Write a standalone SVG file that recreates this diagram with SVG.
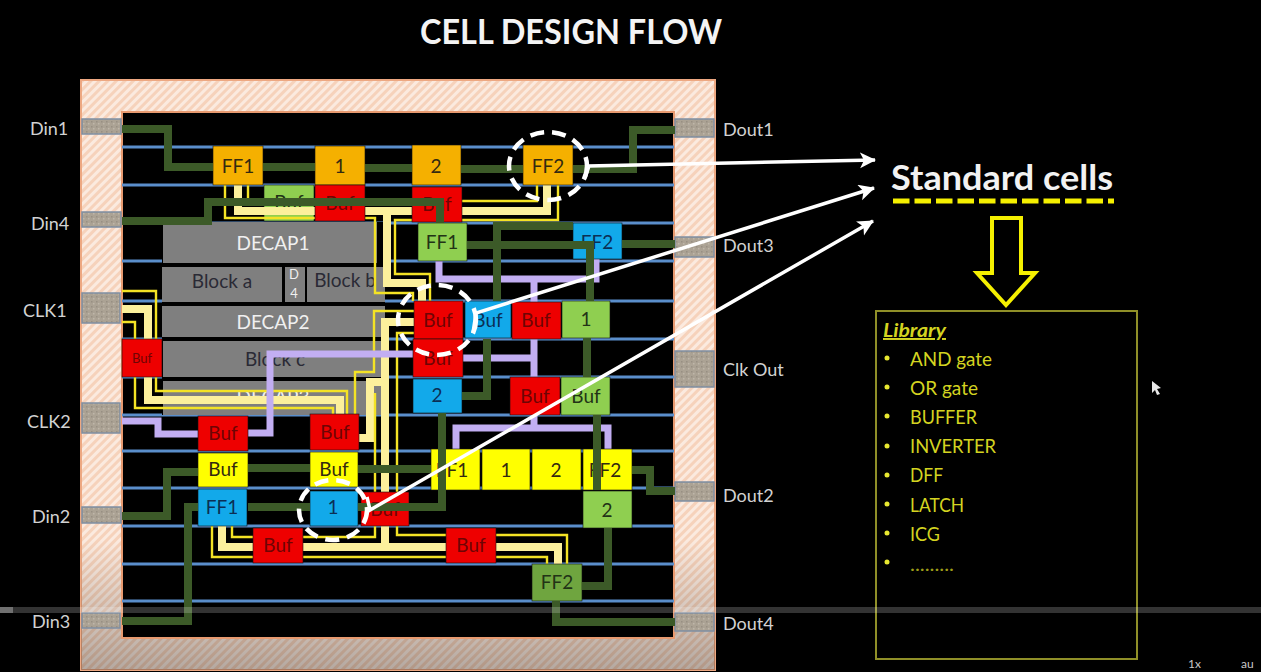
<svg xmlns="http://www.w3.org/2000/svg" width="1261" height="672" viewBox="0 0 1261 672">
<style>
text{font-family:"Lato","Open Sans","Liberation Sans",sans-serif}
.cell text,.blk text{text-anchor:middle}
.cell text{font-size:19px;fill:#332a10}
.or rect{fill:#f5b000}.rd rect{fill:#ee0000}.gn rect{fill:#8fcf50}.dg rect{fill:#6fa53f}.bl rect{fill:#12a9ea}.ye rect{fill:#ffff00}
.rd text{fill:#6e0404}.bl text{fill:#0b2f55}.gn text,.dg text{fill:#223316}
.cell rect{stroke:#111;stroke-width:.6}
.blk rect{fill:#7f7f7f}
.blk text{font-size:19px;fill:#2a2a35}
.blk text.w{fill:#f0f0f0}
.rail path{stroke:#5a8ecb;stroke-width:3;fill:none}
.w7 path{fill:none;stroke:#3c5a28;stroke-width:8}
.wp{fill:none;stroke:#c2aef2;stroke-width:7}
.wc{fill:none;stroke:#fcf09c;stroke-width:8}
.wt{fill:none;stroke:#f4e325;stroke-width:2.4}
.pin{fill:url(#grain);stroke:#7f8ea2;stroke-width:1.5}
.lab{font-size:18px;fill:#d2d2d2}
.ring{fill:none;stroke:#fff;stroke-width:4.5;stroke-dasharray:14 8}
.call{fill:none;stroke:#fff;stroke-width:3.5;marker-end:url(#ah)}
.lib{font-size:19.5px;fill:#d4d420}
.dot{fill:#e8e830}
</style>
<defs>
<pattern id="hatch" width="6" height="6" patternUnits="userSpaceOnUse" patternTransform="rotate(45)">
<rect width="6" height="6" fill="#fbeadf"/><rect width="3" height="6" fill="#f6d2bb"/>
</pattern>
<pattern id="grain" width="5" height="5" patternUnits="userSpaceOnUse">
<rect width="5" height="5" fill="#aba294"/><rect x="1" y="1" width="1.5" height="1.5" fill="#978f83"/><rect x="3" y="3" width="1.5" height="1.5" fill="#bfb7aa"/>
</pattern>
<linearGradient id="fade" x1="0" y1="0" x2="0" y2="1">
<stop offset="0" stop-color="#000" stop-opacity="0"/><stop offset="1" stop-color="#000" stop-opacity=".28"/>
</linearGradient>
<marker id="ah" markerUnits="userSpaceOnUse" markerWidth="20" markerHeight="18" refX="15" refY="8" orient="auto">
<path d="M0 0L16 8L0 16L4 8Z" fill="#fff"/>
</marker>
</defs>
<rect width="1261" height="672" fill="#000"/>
<text x="571" y="44" font-size="34" font-weight="700" fill="#f4f4f4" text-anchor="middle" textLength="302" lengthAdjust="spacingAndGlyphs">CELL DESIGN FLOW</text>

<g id="die">
<rect x="81" y="80" width="634" height="590" fill="url(#hatch)" stroke="#eda882" stroke-width="2"/>
<rect x="81" y="540" width="634" height="130" fill="url(#fade)"/>
<rect x="122" y="112" width="552" height="526" fill="#000" stroke="#e89a70" stroke-width="2"/>
</g>

<g id="rails" class="rail">
<path d="M122 147H674M122 185H674M122 223H674M122 261H674M122 301H674M122 339H674M122 377H674M122 415H674M122 451H674M122 488H674M122 526H674M122 564H674M122 601H674"/>
</g>

<g id="pins">
<g id="pin-din1"><rect class="pin" x="82" y="119" width="39" height="15"/><text class="lab" x="30" y="135">Din1</text></g>
<g id="pin-din4"><rect class="pin" x="82" y="212" width="39" height="15"/><text class="lab" x="31" y="230">Din4</text></g>
<g id="pin-clk1"><rect class="pin" x="82" y="293" width="38" height="30"/><text class="lab" x="23" y="317">CLK1</text></g>
<g id="pin-clk2"><rect class="pin" x="82" y="403" width="38" height="30"/><text class="lab" x="27" y="428">CLK2</text></g>
<g id="pin-din2"><rect class="pin" x="82" y="507" width="39" height="16"/><text class="lab" x="32" y="523">Din2</text></g>
<g id="pin-din3"><rect class="pin" x="82" y="613" width="38" height="15"/><text class="lab" x="32" y="628">Din3</text></g>
<g id="pin-dout1"><rect class="pin" x="675" y="119" width="39" height="18"/><text class="lab" x="723" y="136">Dout1</text></g>
<g id="pin-dout3"><rect class="pin" x="675" y="237" width="39" height="20"/><text class="lab" x="723" y="252">Dout3</text></g>
<g id="pin-clkout"><rect class="pin" x="675" y="351" width="39" height="36"/><text class="lab" x="723" y="376">Clk Out</text></g>
<g id="pin-dout2"><rect class="pin" x="675" y="482" width="39" height="19"/><text class="lab" x="723" y="502">Dout2</text></g>
<g id="pin-dout4"><rect class="pin" x="675" y="613" width="39" height="18"/><text class="lab" x="723" y="630">Dout4</text></g>
</g>

<g id="blocks">
<rect x="162" y="222" width="223" height="193" fill="#000"/>
<g id="decap1" class="blk"><rect x="163" y="222" width="214" height="41"/><text class="w" x="273" y="250">DECAP1</text></g>
<g id="block-a" class="blk"><rect x="162" y="267" width="120" height="35"/><text x="222" y="288">Block a</text></g>
<g id="d4" class="blk"><rect x="285" y="267" width="20" height="35"/><text class="w" x="294" y="279" style="font-size:13px">D</text><text class="w" x="294" y="298" style="font-size:13px">4</text></g>
<g id="block-b" class="blk"><rect x="307" y="267" width="78" height="35"/><text x="345" y="287">Block b</text></g>
<g id="decap2" class="blk"><rect x="162" y="306" width="223" height="31"/><text class="w" x="273" y="329">DECAP2</text></g>
<g id="block-c" class="blk"><rect x="163" y="341" width="222" height="36"/><text x="275" y="366">Block c</text></g>
<g id="decap3" class="blk"><rect x="163" y="381" width="222" height="34"/><text class="w" x="273" y="404">DECAP3</text></g>
</g>

<g id="buf-green-1" class="cell gn"><rect x="264" y="185" width="50" height="36"/><text x="289" y="209">Buf</text></g>

<g id="connectors-clock">
<path class="wc" d="M238 185V211H547V185M387 211V283H422V301"/>
<path class="wt" d="M225 185V218H375V293H413V301M558 185V220H395V274H430V301M248 185V201H537V185"/>
<path class="wc" d="M414 322H385V545M385 382H370V438H359M222 526V547H558V564"/>
<path class="wc" d="M122 309H148V400H340V414"/>
<path class="wt" d="M414 311H374V372H355V414M375 393V537H232V526M414 333H397V535H567V565M212 526V557H547V565M122 291H156V391H347V414M122 322H135V408H333V414"/>
</g>
<g id="connectors-purple">
<path class="wp" d="M122 421H158V434H198M248 433H270V354H413M463 358H534M534 339V377"/>
<path class="wp" d="M439 261V279H596V259M534 279V302M534 415V428M456 449V428H608V449"/>
</g>

<g id="cells">
<g id="ff1-orange" class="cell or"><rect x="213" y="146" width="50" height="39"/><text x="238" y="173">FF1</text></g>
<g id="one-orange" class="cell or"><rect x="315" y="146" width="50" height="39"/><text x="340" y="173">1</text></g>
<g id="two-orange" class="cell or"><rect x="412" y="145" width="49" height="40"/><text x="436" y="173">2</text></g>
<g id="ff2-orange" class="cell or"><rect x="523" y="145" width="50" height="40"/><text x="548" y="173">FF2</text></g>
<g id="buf-red-1" class="cell rd"><rect x="315" y="185" width="50" height="36"/><text x="340" y="210">Buf</text></g>
<g id="buf-red-2" class="cell rd"><rect x="412" y="187" width="50" height="35"/><text x="437" y="211">Buf</text></g>
<g id="ff1-green" class="cell gn"><rect x="418" y="223" width="49" height="38"/><text x="442" y="249">FF1</text></g>
<g id="ff2-blue" class="cell bl"><rect x="573" y="223" width="49" height="36"/><text x="597" y="249">FF2</text></g>
<g id="buf-left" class="cell rd"><rect x="122" y="339" width="40" height="38"/><text x="142" y="363" style="font-size:13px">Buf</text></g>
<g id="buf-circled" class="cell rd"><rect x="414" y="301" width="49" height="38"/><text x="438" y="327">Buf</text></g>
<g id="buf-red-3" class="cell rd"><rect x="413" y="339" width="50" height="38"/><text x="438" y="365">Buf</text></g>
<g id="two-blue" class="cell bl"><rect x="413" y="379" width="49" height="34"/><text x="437" y="402">2</text></g>
<g id="buf-blue" class="cell bl"><rect x="465" y="301" width="46" height="37"/><text x="488" y="327">Buf</text></g>
<g id="buf-red-4" class="cell rd"><rect x="512" y="302" width="49" height="37"/><text x="536" y="327">Buf</text></g>
<g id="one-green" class="cell gn"><rect x="562" y="301" width="48" height="37"/><text x="586" y="326">1</text></g>
<g id="buf-red-5" class="cell rd"><rect x="510" y="377" width="50" height="38"/><text x="535" y="403">Buf</text></g>
<g id="buf-green-2" class="cell gn"><rect x="561" y="377" width="49" height="38"/><text x="586" y="403">Buf</text></g>
<g id="ff1-yellow" class="cell ye"><rect x="431" y="449" width="49" height="41"/><text x="452" y="477">FF1</text></g>
<g id="one-yellow" class="cell ye"><rect x="482" y="449" width="48" height="41"/><text x="506" y="477">1</text></g>
<g id="two-yellow" class="cell ye"><rect x="532" y="449" width="49" height="41"/><text x="556" y="477">2</text></g>
<g id="ff2-yellow" class="cell ye"><rect x="583" y="449" width="49" height="41"/><text x="605" y="477">FF2</text></g>
<g id="two-green" class="cell gn"><rect x="583" y="491" width="49" height="37"/><text x="607" y="517">2</text></g>
<g id="buf-red-6" class="cell rd"><rect x="446" y="528" width="50" height="35"/><text x="471" y="552">Buf</text></g>
<g id="ff2-green" class="cell dg"><rect x="532" y="564" width="50" height="37"/><text x="557" y="589">FF2</text></g>
<g id="buf-red-7" class="cell rd"><rect x="198" y="416" width="50" height="35"/><text x="223" y="440">Buf</text></g>
<g id="buf-yellow-1" class="cell ye"><rect x="198" y="453" width="50" height="34"/><text x="223" y="476">Buf</text></g>
<g id="ff1-blue" class="cell bl"><rect x="198" y="489" width="49" height="37"/><text x="222" y="514">FF1</text></g>
<g id="buf-red-8" class="cell rd"><rect x="310" y="414" width="49" height="36"/><text x="335" y="439">Buf</text></g>
<g id="buf-yellow-2" class="cell ye"><rect x="310" y="452" width="48" height="35"/><text x="334" y="476">Buf</text></g>
<g id="one-blue" class="cell bl"><rect x="310" y="491" width="48" height="35"/><text x="333" y="514">1</text></g>
<g id="buf-red-9" class="cell rd"><rect x="361" y="492" width="48" height="34"/><text x="385" y="516">Buf</text></g>
<g id="buf-red-10" class="cell rd"><rect x="253" y="528" width="50" height="35"/><text x="278" y="552">Buf</text></g>
</g>

<g id="connectors-signal" class="w7">
<path d="M122 129H168V167H213M263 167H315M365 168H412M461 169H523M573 169H633V130H675"/>
<path d="M122 221H208V202H440V223"/>
<path d="M467 245H590V301M497 301V226H573M622 244H675"/>
<path d="M487 339V396H462M587 338V377M597 415V490"/>
<path d="M358 507H442V413M358 469H431M248 468H310"/>
<path d="M122 516H167V472H198M122 621H188V507H198M248 507H310"/>
<path d="M632 470H650V491H675M608 528V586H582M556 601V622H675"/>
</g>

<g id="callouts">
<ellipse class="ring" cx="548" cy="166" rx="39" ry="34"/>
<ellipse class="ring" cx="437" cy="320" rx="39" ry="35"/>
<ellipse class="ring" cx="333" cy="510" rx="34" ry="30"/>
<path class="call" d="M585 178L589 166L875 160"/>
<path class="call" d="M473 333L476 313L874 188"/>
<path class="call" d="M367 497L370 510L873 221"/>
</g>

<g id="standard-cells">
<text x="891" y="190" font-size="34" font-weight="700" fill="#f2f2f2" textLength="222" lengthAdjust="spacingAndGlyphs">Standard cells</text>
<path d="M893 201H1114" fill="none" stroke="#f5f000" stroke-width="5" stroke-dasharray="16.5 5"/>
<path d="M992 218H1021V273H1035L1006 305L977 273H992Z" fill="none" stroke="#f5f000" stroke-width="4"/>
</g>

<g id="library">
<rect x="876" y="311" width="261" height="348" fill="none" stroke="#8f8f28" stroke-width="2"/>
<text x="883" y="337" class="lib" font-weight="700" font-style="italic" text-decoration="underline" textLength="63" lengthAdjust="spacingAndGlyphs">Library</text>
<circle class="dot" cx="887" cy="358" r="2.5"/><text class="lib" x="910" y="366" textLength="82" lengthAdjust="spacingAndGlyphs">AND gate</text>
<circle class="dot" cx="887" cy="387" r="2.5"/><text class="lib" x="910" y="395" textLength="68" lengthAdjust="spacingAndGlyphs">OR gate</text>
<circle class="dot" cx="887" cy="416" r="2.5"/><text class="lib" x="910" y="424" textLength="67" lengthAdjust="spacingAndGlyphs">BUFFER</text>
<circle class="dot" cx="887" cy="446" r="2.5"/><text class="lib" x="910" y="453" textLength="86" lengthAdjust="spacingAndGlyphs">INVERTER</text>
<circle class="dot" cx="887" cy="475" r="2.5"/><text class="lib" x="910" y="482" textLength="33" lengthAdjust="spacingAndGlyphs">DFF</text>
<circle class="dot" cx="887" cy="504" r="2.5"/><text class="lib" x="910" y="512" textLength="54" lengthAdjust="spacingAndGlyphs">LATCH</text>
<circle class="dot" cx="887" cy="533" r="2.5"/><text class="lib" x="910" y="541" textLength="30" lengthAdjust="spacingAndGlyphs">ICG</text>
<circle class="dot" cx="887" cy="562" r="2.5"/><text class="lib" x="910" y="571" textLength="44" lengthAdjust="spacingAndGlyphs" opacity=".75">.........</text>
</g>

<g id="player">
<rect x="0" y="607" width="1261" height="6" fill="#fff" opacity=".2"/>
<rect x="0" y="607" width="13" height="6" fill="#fff" opacity=".3"/>
<path d="M1152 381V393L1155 390L1157 395L1160 394L1157 389L1161 388Z" fill="#e8e8e8"/>
<text x="1188" y="668" font-size="12" fill="#c8c8c8">1x</text>
<text x="1241" y="668" font-size="12" fill="#c8c8c8">au</text>
</g>
</svg>
